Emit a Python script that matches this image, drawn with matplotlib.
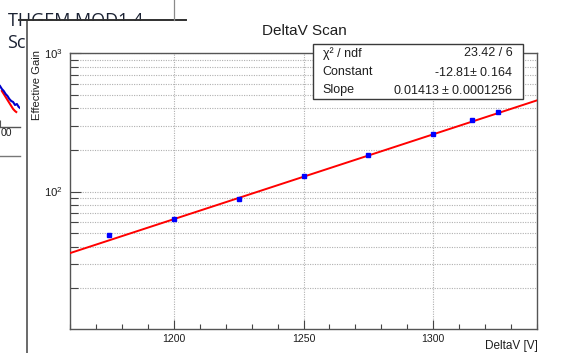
import numpy as np
import matplotlib
matplotlib.use("Agg")
import matplotlib.pyplot as plt
from matplotlib.lines import Line2D
from matplotlib.patches import Rectangle
from matplotlib.ticker import FixedLocator, LogLocator, MultipleLocator, NullFormatter, FixedFormatter

# ---- data -------------------------------------------------------------
delta_v = [1175, 1200, 1225, 1250, 1275, 1300, 1315, 1325]
gain = [48.7, 63.6, 88.9, 129.4, 182.7, 262.0, 327.0, 376.0]
gain_err = [0.9, 1.0, 1.4, 2.0, 2.8, 4.0, 5.0, 5.6]

fit_constant = -12.81
fit_constant_err = 0.164
fit_slope = 0.01413
fit_slope_err = 0.0001256
chi2 = 23.42
ndf = 6

x_ticks = [1200, 1250, 1300]
y_ticks = [100, 1000]
y_tick_labels = [r"$10^{2}$", r"$10^{3}$"]

# fragment of the spectrum canvas lying behind
bg_energy = [200, 203, 206, 209, 212, 215, 218, 221, 224, 227, 230, 232]
bg_blue = [41, 38, 36, 33, 31, 28, 26, 25, 22, 23, 20, 19]
bg_red_energy = [203, 206, 209, 212, 215, 218, 221, 224, 226]
bg_red = [36, 33, 30, 27, 24, 21, 18, 16, 15]
bg_tick_label = "00"

# ---- figure -----------------------------------------------------------
W, H, DPI = 567, 353, 100
plt.rcParams["font.family"] = ["Liberation Sans", "DejaVu Sans"]
plt.rcParams["mathtext.fontset"] = "custom"
plt.rcParams["mathtext.rm"] = "Liberation Sans"
plt.rcParams["mathtext.it"] = "Liberation Sans:italic"
plt.rcParams["mathtext.bf"] = "Liberation Sans:bold"

fig = plt.figure(figsize=(W / DPI, H / DPI), dpi=DPI)
fig.patch.set_facecolor("white")


def fx(px):
    return px / W


def fy(py):
    return 1 - py / H


TXT = "#1e1e1e"

# background canvas pieces
fig.text(fx(8), fy(26), "THGEM MOD1 4", fontsize=13, family=["Open Sans", "DejaVu Sans"],
         color="#1b2233", ha="left", va="baseline", zorder=0)
fig.text(fx(7), fy(48), "Sc", fontsize=13, family=["Open Sans", "DejaVu Sans"],
         color="#1b2233", ha="left", va="baseline", zorder=0)

ax_bg = fig.add_axes([fx(-30), fy(127), fx(50), fy(70) - fy(127)], zorder=0)
ax_bg.set_xlim(152, 232)
ax_bg.set_ylim(0, 57)
ax_bg.patch.set_alpha(0)
for side in ("top", "left", "right"):
    ax_bg.spines[side].set_visible(False)
ax_bg.spines["bottom"].set_color("#555555")
ax_bg.spines["bottom"].set_linewidth(1.0)
ax_bg.set_yticks([])
ax_bg.set_xticks([200])
ax_bg.set_xticklabels([""])
ax_bg.tick_params(axis="x", direction="in", length=5, pad=3, colors="#555555")
ax_bg.plot(bg_red_energy, bg_red, color="red", lw=1.5)
ax_bg.plot(bg_energy, bg_blue, color="#0000cc", lw=1.5)
fig.text(fx(0.5), fy(133.5), bg_tick_label, fontsize=7.6, color=TXT, ha="left", va="center", zorder=0)

fig.add_artist(Line2D([fx(0), fx(20)], [fy(156), fy(156)], color="#777777", lw=1.0, zorder=0))

# foreground canvas
fig.add_artist(Rectangle((fx(27), 0), 1 - fx(27), fy(20.5), transform=fig.transFigure,
                         facecolor="white", edgecolor="none", zorder=1))
fig.add_artist(Line2D([fx(27), fx(27)], [fy(20), 0], color="#505050", lw=1.2, zorder=2))
fig.add_artist(Line2D([fx(19), fx(186)], [fy(20), fy(20)], color="#303030", lw=1.4, zorder=2))
fig.add_artist(Line2D([fx(174), fx(174)], [1, fy(20)], color="#8a8a8a", lw=0.9, zorder=2))

# ---- main plot --------------------------------------------------------
ax = fig.add_axes([fx(70), fy(328.7), fx(537) - fx(70), fy(53.3) - fy(328.7)], zorder=3)
ax.set_facecolor("white")
ax.set_yscale("log")
ax.set_xlim(1160, 1340)
ax.set_ylim(10.2, 1000)

ax.xaxis.set_major_locator(FixedLocator(x_ticks))
ax.xaxis.set_minor_locator(MultipleLocator(10))
ax.yaxis.set_major_locator(FixedLocator(y_ticks))
ax.yaxis.set_major_formatter(FixedFormatter(y_tick_labels))
ax.yaxis.set_minor_locator(LogLocator(base=10, subs=np.arange(2, 10)))
ax.yaxis.set_minor_formatter(NullFormatter())

ax.tick_params(axis="x", which="major", direction="in", length=6.5, width=0.8,
               labelsize=7.6, pad=4, colors="#444444", labelcolor=TXT)
ax.tick_params(axis="x", which="minor", direction="in", length=3.3, width=0.8, colors="#444444")
ax.tick_params(axis="y", which="major", direction="in", length=8, width=0.8,
               labelsize=8.2, pad=5, colors="#444444", labelcolor=TXT)
ax.tick_params(axis="y", which="minor", direction="in", length=6, width=0.8, colors="#444444")

for sp in ax.spines.values():
    sp.set_color("#555555")
    sp.set_linewidth(1.0)

ax.set_axisbelow(True)
grid_style = dict(color="#b0b0b0", linestyle=(0, (1, 1.2)), linewidth=0.8)
ax.grid(which="major", axis="both", **grid_style)
ax.grid(which="minor", axis="y", **grid_style)

# exponential fit: G = exp(constant + slope * V)
v_fit = np.linspace(1160, 1340, 300)
ax.plot(v_fit, np.exp(fit_constant + fit_slope * v_fit), color="red", lw=1.4, zorder=3)

ax.errorbar(delta_v, gain, yerr=gain_err, fmt="s", ms=2.2, color="blue",
            ecolor="blue", elinewidth=0.8, capsize=0, zorder=4)

# titles
fig.text(fx(304), fy(31), "DeltaV Scan", fontsize=11, color=TXT, ha="center", va="center", zorder=4)
fig.text(fx(538), fy(345.5), "DeltaV [V]", fontsize=8.5, color=TXT, ha="right", va="center", zorder=4)
fig.text(fx(36.5), fy(50), "Effective Gain", fontsize=8.1, color=TXT, rotation=90,
         ha="center", va="top", zorder=4)

# fit statistics box
fig.add_artist(Rectangle((fx(312.7), fy(99)), fx(522.7) - fx(312.7), fy(44) - fy(99),
                         transform=fig.transFigure, facecolor="white", edgecolor="#3a3a3a",
                         lw=1.0, zorder=5))
stat_rows = [
    ("χ² / ndf", f"{chi2:.2f} / {ndf}", 53.5),
    ("Constant", f"{fit_constant:.2f}$\\pm$ {fit_constant_err:.3f}", 72.3),
    ("Slope", f"{fit_slope:.5f} $\\pm$ {fit_slope_err:.7f}", 90.0),
]
for name, value, ypx in stat_rows:
    fig.text(fx(322.7), fy(ypx), name, fontsize=9, color=TXT, ha="left", va="center", zorder=6)
    fig.text(fx(512.5), fy(ypx), value, fontsize=9, color=TXT, ha="right", va="center", zorder=6)

fig.savefig("out.png", dpi=DPI, facecolor="white")
